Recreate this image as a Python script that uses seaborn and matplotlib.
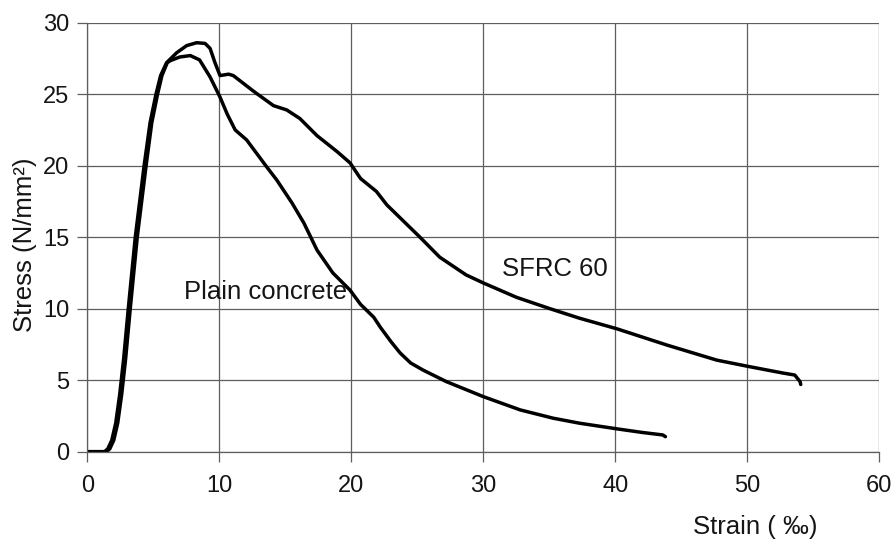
import matplotlib
matplotlib.use("Agg")
import matplotlib.pyplot as plt
import seaborn as sns
import pandas as pd

# Stress-strain curves (strain in per mille, stress in N/mm²)
plain_strain = [0, 1.45, 1.7, 2.0, 2.3, 2.6, 2.9, 3.25, 3.78, 4.45, 4.88, 5.32, 5.65, 6.05,
                6.3, 7.0, 7.8, 8.5, 9.3, 10.05, 10.6, 11.2, 12.07, 13.6, 14.35, 15.5, 16.4,
                17.4, 18.6, 19.9, 20.7, 21.7, 22.2, 23.0, 23.7, 24.5, 25.45, 27.2, 30.0,
                32.8, 35.3, 37.3, 40.1, 42.0, 43.6, 43.8]
plain_stress = [0, 0, 0.2, 0.8, 2.0, 4.0, 6.5, 10, 15, 20, 23, 25, 26.3, 27.2,
                27.35, 27.6, 27.7, 27.4, 26.2, 24.8, 23.6, 22.5, 21.8, 19.9, 19.0, 17.4, 16.0,
                14.1, 12.5, 11.3, 10.3, 9.4, 8.7, 7.7, 6.9, 6.2, 5.7, 4.9, 3.85,
                2.92, 2.34, 1.99, 1.6, 1.35, 1.17, 1.05]

sfrc_strain = [0, 1.3, 1.55, 1.85, 2.15, 2.45, 2.75, 3.1, 3.63, 4.3, 4.75, 5.2, 5.55, 6.0,
               6.77, 7.53, 8.29, 8.92, 9.3, 9.67, 10.05, 10.7, 11.06, 12.6, 14.1, 15.1,
               16.1, 17.4, 18.9, 19.9, 20.7, 21.9, 22.7, 25.2, 26.7, 28.7, 30.0, 32.5,
               35.05, 37.3, 40.1, 43.9, 47.7, 50.2, 52.7, 53.6, 54.0, 54.05]
sfrc_stress = [0, 0, 0.2, 0.8, 2.0, 4.0, 6.5, 10, 15, 20, 23, 25, 26.3, 27.2,
               27.9, 28.4, 28.6, 28.55, 28.2, 27.2, 26.3, 26.4, 26.3, 25.2, 24.2, 23.9,
               23.3, 22.1, 21.0, 20.2, 19.1, 18.2, 17.25, 15.0, 13.6, 12.36, 11.8, 10.8,
               10.0, 9.33, 8.6, 7.46, 6.4, 5.94, 5.5, 5.36, 4.9, 4.7]

series_names = ["Plain concrete", "SFRC 60"]
x_ticks = [0, 10, 20, 30, 40, 50, 60]
y_ticks = [0, 5, 10, 15, 20, 25, 30]

df = pd.concat([
    pd.DataFrame({"strain": plain_strain, "stress": plain_stress, "series": series_names[0]}),
    pd.DataFrame({"strain": sfrc_strain, "stress": sfrc_stress, "series": series_names[1]}),
], ignore_index=True)

sns.set_theme(style="white")
plt.rcParams["font.family"] = ["Liberation Sans", "DejaVu Sans"]

fig = plt.figure(figsize=(8.96, 5.44), dpi=100)
ax = fig.add_axes([0.0975, 0.1697, 0.8838, 0.7886])

sns.lineplot(data=df, x="strain", y="stress", units="series", estimator=None,
             sort=False, color="black", linewidth=2.5, ax=ax, legend=False)

ax.set_xlim(0, 60)
ax.set_ylim(0, 30)
ax.set_xticks(x_ticks)
ax.set_yticks(y_ticks)
ax.grid(True, color="#5e5e5e", linewidth=0.9)
ax.set_axisbelow(True)

for side in ["top", "right"]:
    ax.spines[side].set_visible(False)
for side in ["left", "bottom"]:
    ax.spines[side].set_color("#5e5e5e")
    ax.spines[side].set_linewidth(0.9)

ax.tick_params(axis="both", which="major", direction="out", length=7, width=0.9,
               color="#5e5e5e", labelsize=17, labelcolor="#151515")
ax.tick_params(axis="x", pad=10, bottom=True)
ax.tick_params(axis="y", pad=6, left=True)

ax.set_xlabel("Strain ( ‰)", fontsize=18.5, color="#151515")
ax.xaxis.set_label_coords(0.844, -0.148)
ax.set_ylabel("Stress (N/mm²)", fontsize=18.5, color="#151515")
ax.yaxis.set_label_coords(-0.064, 0.482)

ax.text(7.33, 11.15, series_names[0], fontsize=18.5, va="center", ha="left", color="#151515")
ax.text(31.4, 12.8, series_names[1], fontsize=18.5, va="center", ha="left", color="#151515")

fig.savefig("out.png", dpi=100)
